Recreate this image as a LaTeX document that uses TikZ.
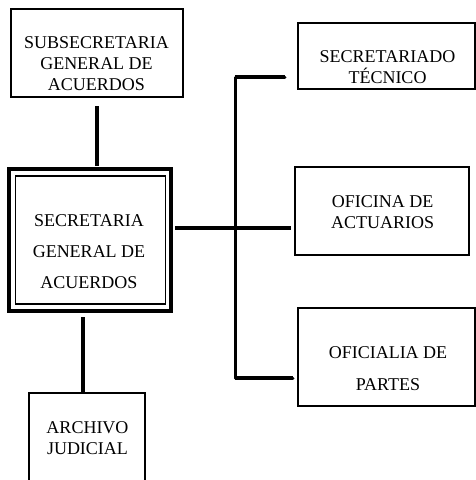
\documentclass[tikz,border=0pt]{standalone}
\usepackage{fontspec}
\setmainfont{Liberation Serif}
\begin{document}
\begin{tikzpicture}[x=1pt,y=-1pt,
  box/.style={draw=black,line width=2.4pt,rectangle,inner sep=0pt},
  lbl/.style={align=center,inner sep=0pt,font=\fontsize{18}{21}\selectfont},
  conn/.style={draw=black,line width=4pt},
  trunk/.style={draw=black,line width=3pt,line cap=round,line join=round}]
\useasboundingbox (0,0) rectangle (476,480);
\clip (0,0) rectangle (476,480);
% boxes
\node[box,minimum width=172pt,minimum height=88pt] (sub) at (97,53) {};
\node[box,line width=4pt,minimum width=162pt,minimum height=142pt] (sec) at (90,240) {};
\node[box,line width=1.5pt,minimum width=150pt,minimum height=128pt] (secin) at (90.5,240) {};
\node[box,minimum width=177pt,minimum height=66pt] (tec) at (386.5,56) {};
\node[box,minimum width=174pt,minimum height=88pt] (act) at (382,211) {};
\node[box,minimum width=177pt,minimum height=98pt] (par) at (386.5,357) {};
\node[box,minimum width=116pt,minimum height=114pt] (arc) at (87,450) {};
% texts
\node[lbl] (tsub) at (96.5,64) {SUBSECRETARIA\\GENERAL DE\\ACUERDOS};
\node[lbl,font=\fontsize{18}{31}\selectfont] (tsec) at (89,251.5) {SECRETARIA\\GENERAL DE\\ACUERDOS};
\node[lbl] (ttec) at (387.5,67) {SECRETARIADO\\TÉCNICO};
\node[lbl,font=\fontsize{18}{20.5}\selectfont] (tact) at (382.7,212) {OFICINA DE\\ACTUARIOS};
\node[lbl,font=\fontsize{18}{32}\selectfont] (tpar) at (388,368.5) {OFICIALIA DE\\PARTES};
\node[lbl,font=\fontsize{18}{20.5}\selectfont] (tarc) at (87.5,438) {ARCHIVO\\JUDICIAL};
% connector coordinates
\coordinate (subdown) at (97,106);
\coordinate (secup) at (97,166);
\coordinate (secdown) at (83,317);
\coordinate (arcup) at (83,393);
\coordinate (ttop) at (235,77);
\coordinate (tmid) at (235,228);
\coordinate (tbot) at (235,378);
\coordinate (btec) at (285,77);
\coordinate (bact) at (291,228);
\coordinate (bpar) at (293,378);
\coordinate (secright) at (175,228);
% connectors
\draw[trunk] (btec) -- (ttop) -- (tbot) -- (bpar);
\draw[conn] (ttop) -- (btec);
\draw[conn] (tbot) -- (bpar);
\draw[conn] (subdown) -- (secup);
\draw[conn] (secdown) -- (arcup);
\draw[conn] (secright) -- (bact);
\end{tikzpicture}
\end{document}
